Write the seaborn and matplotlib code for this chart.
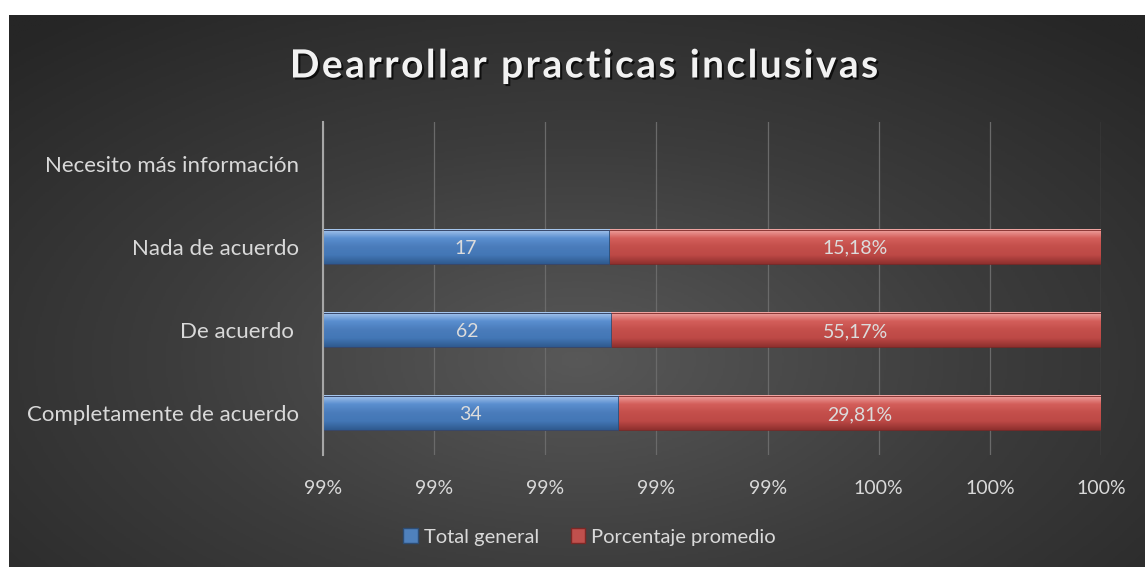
import numpy as np
import pandas as pd
import matplotlib
matplotlib.use("Agg")
import matplotlib.pyplot as plt
import matplotlib.patheffects as pe
from matplotlib.patches import Patch
from matplotlib.ticker import FuncFormatter
import seaborn as sns

# data
categories = ["Necesito más información", "Nada de acuerdo", "De acuerdo ", "Completamente de acuerdo"]
bar_categories = ["Nada de acuerdo", "De acuerdo ", "Completamente de acuerdo"]
total_general = [17, 62, 34]
porcentaje_promedio = [0.1518, 0.5517, 0.2981]
x_ticks = [0.986, 0.988, 0.990, 0.992, 0.994, 0.996, 0.998, 1.000]
title = "Dearrollar practicas inclusivas"

plt.rcParams['font.family'] = ['Lato', 'DejaVu Sans']

# 100% stacked: share of each series in the row
df = pd.DataFrame({"cat": bar_categories, "total": total_general, "pct": porcentaje_promedio})
df["blue"] = df["total"] / (df["total"] + df["pct"])
df["cum"] = (df["total"] + df["pct"]) / (df["total"] + df["pct"])

fig = plt.figure(figsize=(11.45, 5.67), dpi=100, facecolor="white")

# dark radial background panel
bg = fig.add_axes([9 / 1145, 0, 1 - 9 / 1145, 1 - 15 / 567])
yy, xx = np.mgrid[-1:1:300j, -1:1:600j]
r = np.sqrt((xx / 1.0) ** 2 + ((yy - 0.25) / 1.1) ** 2)
bg.imshow(r, cmap=matplotlib.colors.LinearSegmentedColormap.from_list(
    "bgc", ["#585858", "#3c3c3c", "#262626"]), aspect="auto", vmin=0, vmax=1.45,
    extent=(0, 1, 0, 1))
bg.set_axis_off()

ax = fig.add_axes([323 / 1145, 1 - 455 / 567, 778 / 1145, 333 / 567])
ax.patch.set_alpha(0)

sns.barplot(data=df, x="cum", y="cat", order=categories, orient="h",
            color="#c0504d", width=0.41, ax=ax, saturation=1, errorbar=None)
sns.barplot(data=df, x="blue", y="cat", order=categories, orient="h",
            color="#4f81bd", width=0.41, ax=ax, saturation=1, errorbar=None)

xmin, xmax = x_ticks[0], x_ticks[-1]
ax.set_xlim(xmin, xmax)
ylim = ax.get_ylim()

# bevel-like vertical gradient on each bar
grads = {
    "blue": ["#a9c8ee", "#5b8fd0", "#4a7cbb", "#4377b6", "#2f5a8f"],
    "red": ["#f0a7a4", "#d45f5b", "#c44f4b", "#bd4946", "#8f302e"],
}
for p in list(ax.patches):
    fc = p.get_facecolor()
    key = "blue" if fc[2] > fc[0] else "red"
    cmap = matplotlib.colors.LinearSegmentedColormap.from_list(key, grads[key])
    x0, y0 = p.get_x(), p.get_y()
    w, h = p.get_width(), p.get_height()
    left = max(x0, xmin)
    grad = np.linspace(0, 1, 64).reshape(-1, 1)
    ax.imshow(grad, cmap=cmap, aspect="auto", extent=(left, x0 + w, y0 + h, y0),
              zorder=p.get_zorder() + 0.1)
    p.set_edgecolor("#2d4d75" if key == "blue" else "#7c2826")
    p.set_linewidth(0.6)
    p.set_zorder(p.get_zorder() + 0.2)
    p.set_facecolor("none")

ax.set_xlim(xmin, xmax)
ax.set_ylim(ylim)
ax.set_aspect("auto")

# data labels
for i, row in df.iterrows():
    y = categories.index(row["cat"])
    bx = (max(0, xmin) + row["blue"]) / 2
    rx = (row["blue"] + row["cum"]) / 2
    ax.text(bx, y, f"{row['total']}", ha="center", va="center_baseline", color="#dcdcdc",
            fontsize=14, zorder=10)
    ax.text(rx, y, f"{row['pct'] * 100:.2f}%".replace(".", ","), ha="center",
            va="center_baseline", color="#dcdcdc", fontsize=14, zorder=10)

ax.set_xticks(x_ticks)
ax.xaxis.set_major_formatter(FuncFormatter(lambda v, _: f"{v * 100:.0f}%"))
ax.grid(axis="x", color="#6a6a6a", linewidth=0.9)
ax.set_axisbelow(True)
ax.tick_params(axis="x", length=0, pad=18, labelsize=14, labelcolor="#d9d9d9")
ax.tick_params(axis="y", length=0, pad=17, labelsize=16, labelcolor="#d9d9d9")
ax.set_xlabel("")
ax.set_ylabel("")
for s in ["top", "right", "bottom"]:
    ax.spines[s].set_visible(False)
ax.spines["left"].set_color("#a6a6a6")
ax.spines["left"].set_linewidth(1.5)

# letter-spaced title
spaced = "\u200a".join(title)
fig.text(0.509, 1 - 66 / 567, spaced, ha="center", va="center",
         fontsize=28, fontweight="bold", color="#f2f2f2",
         path_effects=[pe.withSimplePatchShadow(offset=(1.5, -1.5), shadow_rgbFace="#000000", alpha=0.7)])

handles = [Patch(facecolor="#4f81bd", edgecolor="#2d4d75"),
           Patch(facecolor="#c0504d", edgecolor="#7c2826")]
leg = fig.legend(handles, ["Total general", "Porcentaje promedio"], loc="center",
                 bbox_to_anchor=(0.515, 1 - 537 / 567), ncol=2, frameon=False,
                 fontsize=14.5, handlelength=0.7, handleheight=0.7, handletextpad=0.3,
                 columnspacing=1.6)
for t in leg.get_texts():
    t.set_color("#d9d9d9")

fig.savefig("out.png", dpi=100, facecolor="white")
